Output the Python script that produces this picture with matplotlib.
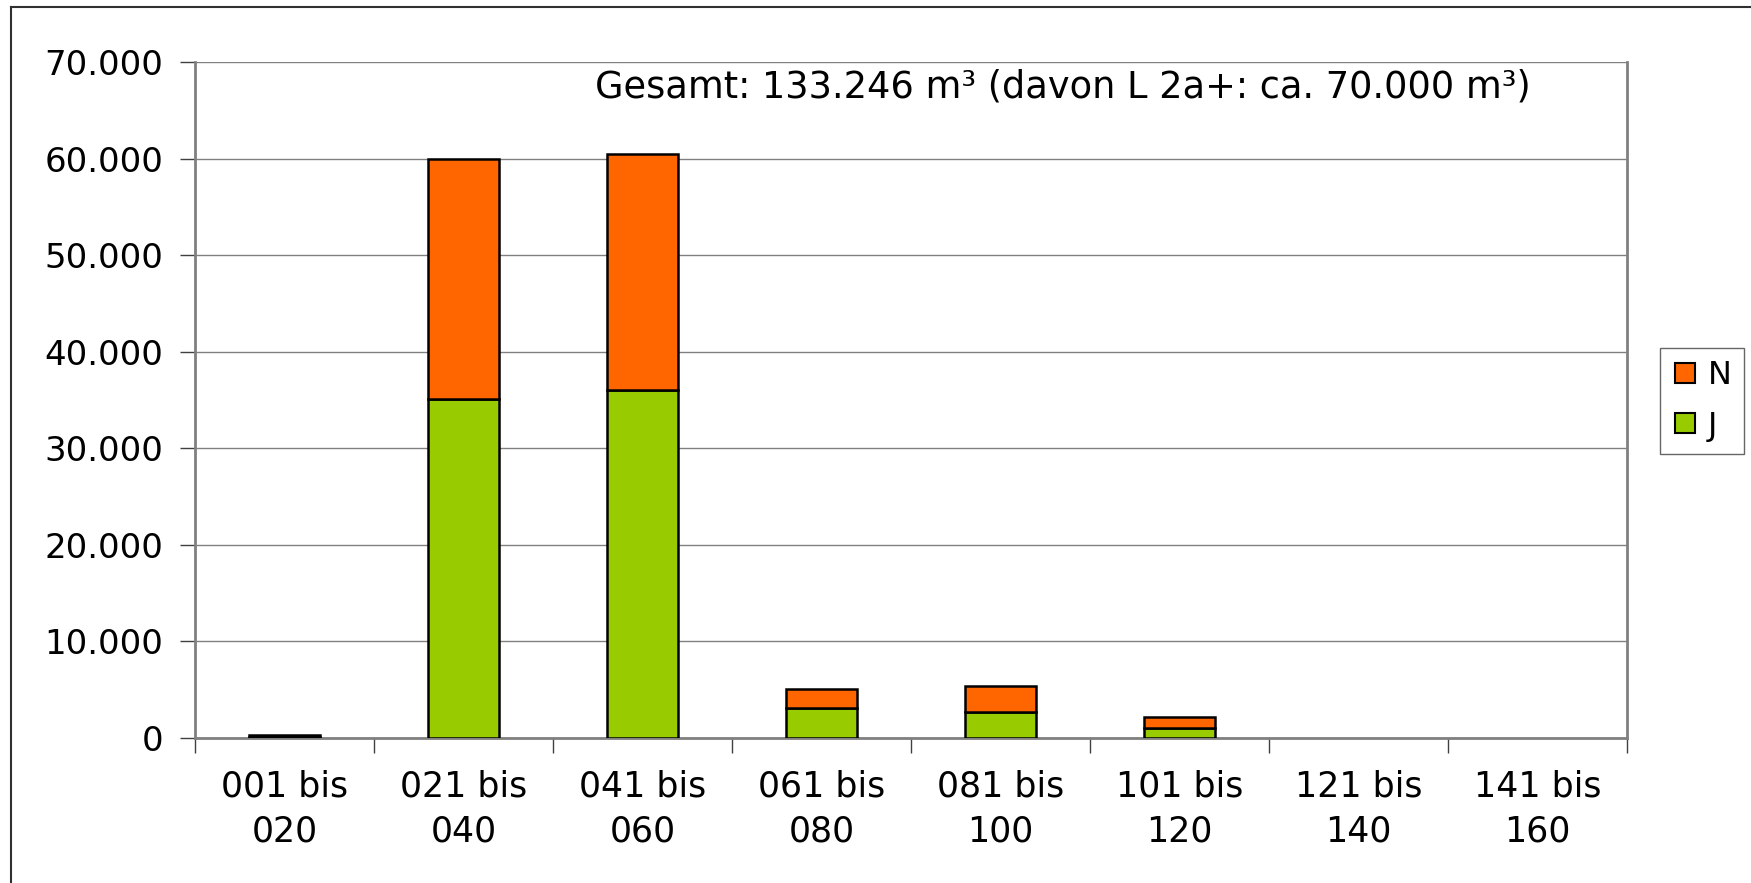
import numpy as np
import matplotlib.pyplot as plt
from matplotlib.lines import Line2D

plt.rcParams['font.family'] = ['DejaVu Sans']

# Volumen je Klasse (m³), gestapelt: J unten, N oben
klassen = ["001 bis\n020", "021 bis\n040", "041 bis\n060", "061 bis\n080",
           "081 bis\n100", "101 bis\n120", "121 bis\n140", "141 bis\n160"]
werte_j = [140, 35100, 36000, 3100, 2650, 1040, 0, 0]
werte_n = [146, 24830, 24450, 1970, 2690, 1130, 0, 0]
y_ticks = [0, 10000, 20000, 30000, 40000, 50000, 60000, 70000]
y_labels = ["0", "10.000", "20.000", "30.000", "40.000", "50.000", "60.000", "70.000"]

farbe_j = "#99CC00"
farbe_n = "#FF6600"

fig = plt.figure(figsize=(17.51, 8.83), dpi=100)
ax = fig.add_axes([195 / 1751, 1 - 738 / 883, 1432 / 1751, 676 / 883])

x = np.arange(len(klassen))
# leere Klassen ohne Umriss zeichnen
rand_j = ["black" if v > 0 else "none" for v in werte_j]
rand_n = ["black" if v > 0 else "none" for v in werte_n]
ax.bar(x, werte_j, width=0.40, color=farbe_j, edgecolor=rand_j, linewidth=1.8, zorder=3)
ax.bar(x, werte_n, width=0.40, bottom=werte_j, color=farbe_n, edgecolor=rand_n,
       linewidth=1.8, zorder=3)

ax.set_xlim(-0.5, len(klassen) - 0.5)
ax.set_ylim(0, 70000)
ax.set_yticks(y_ticks)
ax.set_yticklabels(y_labels)
ax.yaxis.grid(True, color="#808080", linewidth=1.0, zorder=0)

# Kategorienamen mittig, Teilstriche an den Klassengrenzen
ax.set_xticks(np.arange(len(klassen) + 1) - 0.5)
ax.set_xticklabels([])
ax.set_xticks(x, minor=True)
ax.set_xticklabels(klassen, minor=True, fontsize=25, linespacing=1.4)
ax.tick_params(axis="x", which="minor", length=0, pad=23)
ax.tick_params(axis="x", which="major", length=11, width=1, color="#404040")
ax.tick_params(axis="y", length=11, width=1, color="#404040", labelsize=24.5, pad=12)

for side in ["left", "bottom", "right"]:
    ax.spines[side].set_color("#808080")
    ax.spines[side].set_linewidth(2)
ax.spines["top"].set_visible(False)

ax.text(0.279, 0.948, "Gesamt: 133.246 m³ (davon L 2a+: ca. 70.000 m³)",
        transform=ax.transAxes, fontsize=26.5, ha="left", va="baseline")

handles = [Line2D([], [], marker="s", linestyle="none", markersize=15,
                  markerfacecolor=c, markeredgecolor="black", markeredgewidth=1.5)
           for c in (farbe_n, farbe_j)]
fig.legend(handles, ["N", "J"], loc="center", bbox_to_anchor=(1702 / 1751, 1 - 401 / 883),
           fontsize=23, frameon=True, fancybox=False, edgecolor="#404040",
           handlelength=0.8, handletextpad=0.3, borderpad=0.4, labelspacing=0.6)

# Rahmen links und oben
fig.add_artist(Line2D([11 / 1751, 11 / 1751], [0, 1 - 7 / 883],
                      transform=fig.transFigure, color="#303030", linewidth=1.5))
fig.add_artist(Line2D([11 / 1751, 1], [1 - 7 / 883, 1 - 7 / 883],
                      transform=fig.transFigure, color="#303030", linewidth=1.5))

fig.savefig("out.png", dpi=100)
